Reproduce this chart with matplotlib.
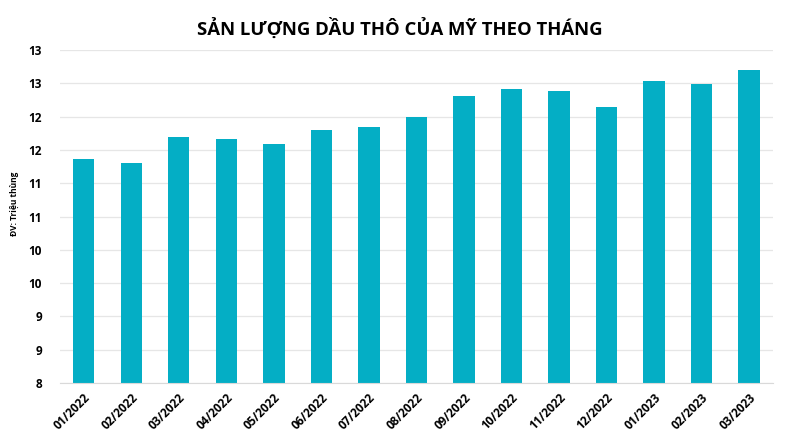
import numpy as np
import matplotlib.pyplot as plt
from matplotlib.ticker import FuncFormatter, MultipleLocator

plt.rcParams['font.family'] = ['Open Sans', 'DejaVu Sans']

months = ["01/2022", "02/2022", "03/2022", "04/2022", "05/2022", "06/2022",
          "07/2022", "08/2022", "09/2022", "10/2022", "11/2022", "12/2022",
          "01/2023", "02/2023", "03/2023"]
output = [11.36, 11.31, 11.69, 11.66, 11.59, 11.80, 11.85, 12.00,
          12.31, 12.41, 12.38, 12.15, 12.53, 12.49, 12.70]

title = "SẢN LƯỢNG DẦU THÔ CỦA MỸ THEO THÁNG"
unit = "ĐV: Triệu thùng"


def excel_round(v, pos):
    # labels shown rounded to whole numbers, half away from zero
    return str(int(np.floor(v + 0.5)))


fig = plt.figure(figsize=(8, 4.4), dpi=100)
ax = fig.add_axes([0.075, 0.1295, 0.891, 0.7565])

x = np.arange(len(months))
ax.bar(x, output, width=0.45, color="#04AEC5", zorder=2)

ax.set_xlim(-0.5, len(months) - 0.5)
ax.set_ylim(8, 13)
ax.yaxis.set_major_locator(MultipleLocator(0.5))
ax.yaxis.set_major_formatter(FuncFormatter(excel_round))
ax.grid(axis="y", color="#E6E6E6", linewidth=0.9, zorder=0)

ax.set_xticks(x)
ax.set_xticklabels(months, rotation=45, ha="right", rotation_mode="anchor",
                   fontsize=8.5, fontweight="bold")
for lab in ax.get_yticklabels():
    lab.set_fontsize(8.5)
    lab.set_fontweight("bold")
ax.tick_params(axis="both", length=0)
ax.tick_params(axis="y", pad=13)
ax.tick_params(axis="x", pad=6)

for s in ["top", "right", "left"]:
    ax.spines[s].set_visible(False)
ax.spines["bottom"].set_color("#D9D9D9")

fig.text(0.012, 0.537, unit, rotation=90, va="center", ha="left",
         fontsize=6, fontweight="bold")
fig.text(0.5, 0.935, title, ha="center", va="center",
         fontsize=13.3, fontweight="bold")

fig.savefig("out.png", dpi=100)
